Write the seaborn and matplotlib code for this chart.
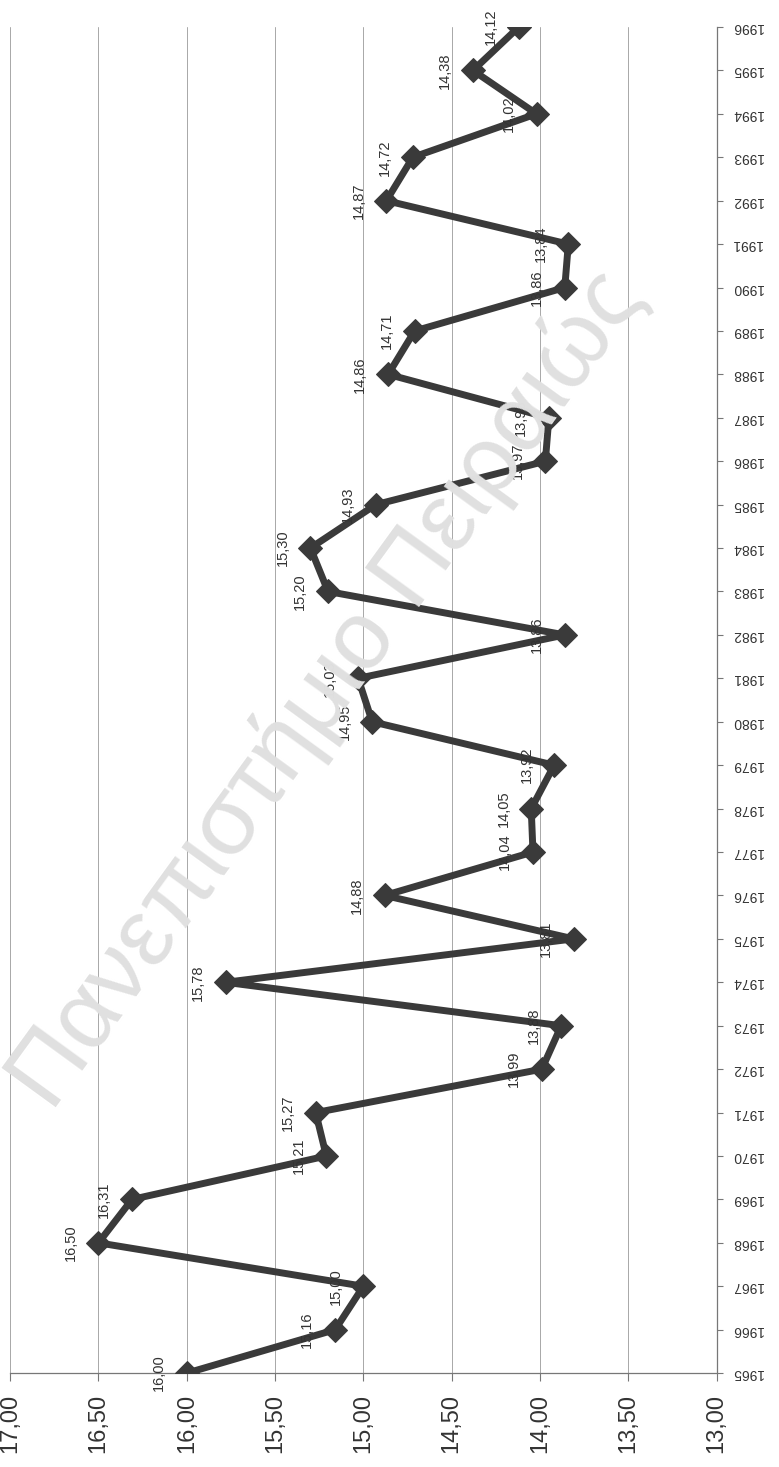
import matplotlib
matplotlib.use("Agg")
import matplotlib.pyplot as plt
import seaborn as sns
import pandas as pd

# yearly values
years = list(range(1965, 1997))
values = [16.00, 15.16, 15.00, 16.50, 16.31, 15.21, 15.27, 13.99, 13.88, 15.78,
          13.81, 14.88, 14.04, 14.05, 13.92, 14.95, 15.03, 13.86, 15.20, 15.30,
          14.93, 13.97, 13.95, 14.86, 14.71, 13.86, 13.84, 14.87, 14.72, 14.02,
          14.38, 14.12]
value_ticks = [17.0, 16.5, 16.0, 15.5, 15.0, 14.5, 14.0, 13.5, 13.0]
watermark = "Πανεπιστήμιο Πειραιώς"

data = pd.DataFrame({'Year': years, 'Value': values})

sns.set_style("white")
plt.rcParams['font.family'] = ['Liberation Sans', 'DejaVu Sans']

fig = plt.figure(figsize=(7.79, 14.67), dpi=100)
ax = fig.add_axes([0.013, 0.064, 0.907, 0.9176])

# the page is scanned sideways: years run upwards, values right to left
sns.lineplot(data=data, x='Value', y='Year', sort=False, estimator=None,
             color='#3a3a3a', linewidth=5, marker='D', markersize=12,
             markeredgecolor='#3a3a3a', ax=ax, zorder=3)

for yr, v in zip(years, values):
    ax.annotate(f"{v:.2f}".replace('.', ','), xy=(v, yr), xytext=(-20, 0),
                textcoords='offset points', rotation=90, ha='center',
                va='center', fontsize=10.5, color='#333333', zorder=4)

ax.set_xlim(17, 13)
ax.set_ylim(1965, 1996)
ax.set_xticks(value_ticks)
ax.set_xticklabels([f"{t:.2f}".replace('.', ',') for t in value_ticks],
                   rotation=90, fontsize=17, color='#333333')
ax.set_yticks(years)
ax.yaxis.tick_right()
ax.set_yticklabels([str(y) for y in years], fontsize=10, color='#333333')
for lbl in ax.get_yticklabels():
    # upside-down labels, anchored at the axis side
    lbl.set_rotation(180)
    lbl.set_rotation_mode('anchor')
    lbl.set_ha('right')
    lbl.set_va('center')
ax.tick_params(axis='x', direction='out', length=6, width=0.8, pad=9,
               colors='#777777', labelcolor='#333333', bottom=True)
ax.tick_params(axis='y', direction='out', length=4, width=0.8, pad=7,
               colors='#777777', labelcolor='#333333', right=True, left=False)
ax.set_xlabel('')
ax.set_ylabel('')

ax.grid(axis='x', color='#a8a8a8', linewidth=0.7)
ax.grid(axis='y', visible=False)
for side in ['top', 'left']:
    ax.spines[side].set_visible(False)
for side in ['right', 'bottom']:
    ax.spines[side].set_color('#777777')
    ax.spines[side].set_linewidth(0.9)

fig.text(0.42, 0.53, watermark, rotation=54, ha='center', va='center',
         fontsize=70, color='#e0e0e0', zorder=0)

fig.savefig('out.png', dpi=100, facecolor='white')
print("Done")
